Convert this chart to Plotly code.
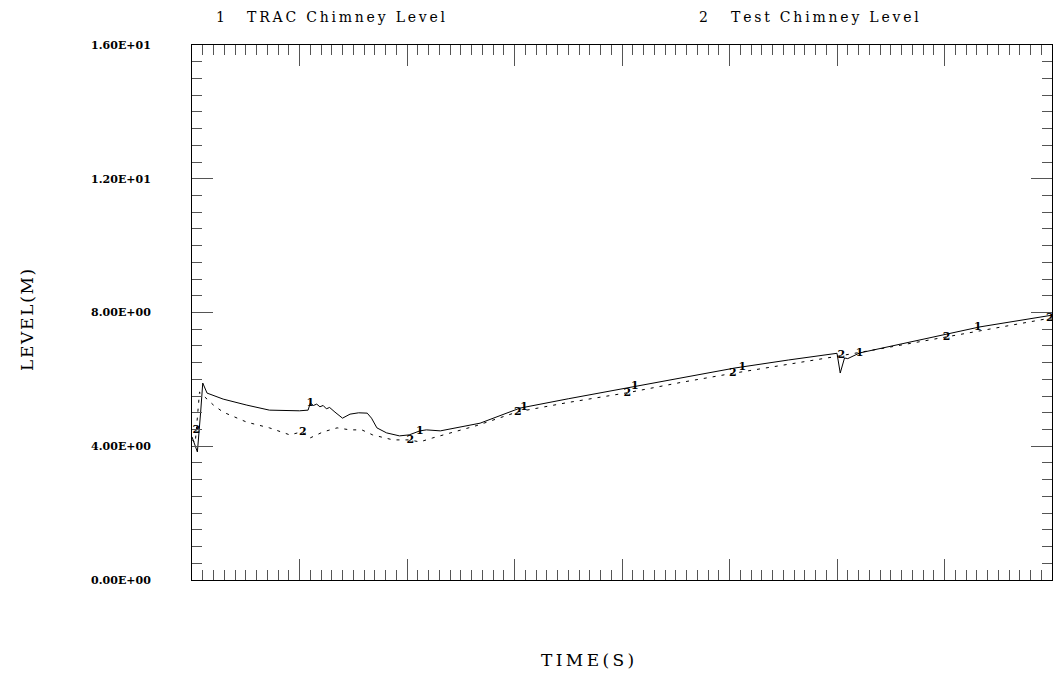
import numpy as np
import plotly.graph_objects as go

# ---- data (time in s, level in m) ----
t_trac = [0, 3, 5, 8, 10, 14, 29, 51, 72, 100, 108, 110, 113, 116, 119, 122, 125, 128, 131, 133,
          140, 147, 155, 163, 167, 172, 181, 193, 202, 212, 218, 231, 268, 305, 350, 403,
          455, 505, 555, 598, 600, 603, 607, 610, 621, 680, 733, 800]
y_trac = [4.28, 4.00, 3.83, 5.00, 5.89, 5.59, 5.41, 5.23, 5.08, 5.06, 5.08, 5.29, 5.22, 5.26, 5.18, 5.22, 5.12, 5.16, 5.06, 5.02,
          4.84, 4.96, 5.00, 4.99, 4.84, 4.55, 4.40, 4.31, 4.34, 4.46, 4.49, 4.46, 4.69, 5.14, 5.42, 5.74,
          6.05, 6.34, 6.58, 6.76, 6.78, 6.19, 6.64, 6.62, 6.79, 7.20, 7.57, 7.92]

t_test = [0, 3, 7, 20, 29, 51, 72, 91, 102, 110, 122, 135, 147, 158, 168, 187, 202, 212, 224, 237,
          265, 303, 350, 405, 455, 503, 555, 604, 650, 702, 750, 800]
y_test = [4.20, 4.10, 5.62, 5.23, 5.02, 4.72, 4.55, 4.34, 4.43, 4.25, 4.43, 4.55, 4.49, 4.49, 4.34, 4.19, 4.19, 4.13, 4.25, 4.37,
          4.62, 5.03, 5.31, 5.60, 5.91, 6.18, 6.45, 6.71, 6.97, 7.27, 7.54, 7.84]

label_t_trac = [110, 212, 309, 412, 512, 621, 731]
label_t_test = [4, 103, 203, 303, 405, 503, 604, 702, 798]

y_tickvals = [0, 4, 8, 12, 16]
y_ticktext = ["0.00E+00", "4.00E+00", "8.00E+00", "1.20E+01", "1.60E+01"]

legend_names = ["TRAC Chimney Level", "Test Chimney Level"]

SERIF = "DejaVu Serif"


def spaced(s, sep="\u200a"):
    return sep.join(list(s))


fig = go.Figure()
fig.add_trace(go.Scatter(x=t_trac, y=y_trac, mode="lines",
                         line=dict(color="black", width=1), showlegend=False))
fig.add_trace(go.Scatter(x=t_test, y=y_test, mode="lines",
                         line=dict(color="black", width=1, dash="3px,6px"), showlegend=False))

fig.add_trace(go.Scatter(x=label_t_trac, y=np.interp(label_t_trac, t_trac, y_trac), mode="text",
                         text=["1"] * len(label_t_trac), textposition="middle center",
                         textfont=dict(family=SERIF, size=11, color="black", weight="bold"),
                         showlegend=False))
fig.add_trace(go.Scatter(x=label_t_test, y=np.interp(label_t_test, t_test, y_test), mode="text",
                         text=["2"] * len(label_t_test), textposition="middle center",
                         textfont=dict(family=SERIF, size=11, color="black", weight="bold"),
                         showlegend=False))

L, R, T, B = 192, 2, 45, 95
W, H = 1054, 675
pw, ph = W - L - R, H - T - B


def px(xp):
    return (xp - L) / pw


def py(yp):
    return (H - B - yp) / ph


ann = []
ann.append(dict(text="1", x=px(214), y=py(17), xref="paper", yref="paper", xanchor="left",
                yanchor="middle", showarrow=False, font=dict(family=SERIF, size=14, color="black")))
ann.append(dict(text=spaced(legend_names[0], "\u2009"), x=px(245), y=py(17), xref="paper", yref="paper",
                xanchor="left", yanchor="middle", showarrow=False,
                font=dict(family=SERIF, size=14, color="black")))
ann.append(dict(text="2", x=px(697), y=py(17), xref="paper", yref="paper", xanchor="left",
                yanchor="middle", showarrow=False, font=dict(family=SERIF, size=14, color="black")))
ann.append(dict(text=spaced(legend_names[1], "\u2009"), x=px(729), y=py(17), xref="paper", yref="paper",
                xanchor="left", yanchor="middle", showarrow=False,
                font=dict(family=SERIF, size=14, color="black")))
ann.append(dict(text=spaced("TIME(S)", "\u2009"), x=px(587), y=py(660), xref="paper", yref="paper",
                xanchor="center", yanchor="middle", showarrow=False,
                font=dict(family=SERIF, size=17, color="black")))
ann.append(dict(text=spaced("LEVEL(M)", "\u200a"), x=px(27), y=py(320), xref="paper", yref="paper",
                xanchor="center", yanchor="middle", showarrow=False, textangle=-90,
                font=dict(family=SERIF, size=17, color="black")))

fig.update_layout(
    width=W, height=H,
    margin=dict(l=L, r=R, t=T, b=B),
    plot_bgcolor="white", paper_bgcolor="white",
    annotations=ann,
    xaxis=dict(range=[0, 800], showgrid=False, zeroline=False, showticklabels=False,
               showline=True, linecolor="black", linewidth=1, mirror="allticks",
               ticks="inside", tickmode="linear", tick0=0, dtick=100, ticklen=21,
               tickcolor="#555", tickwidth=1,
               minor=dict(ticks="inside", dtick=10, tick0=0, ticklen=10, tickcolor="#555",
                          tickwidth=1, showgrid=False)),
    yaxis=dict(range=[0, 16], showgrid=False, zeroline=False, showline=True,
               linecolor="black", linewidth=1, mirror="allticks",
               ticks="inside", tickmode="array", tickvals=y_tickvals, ticktext=y_ticktext,
               ticklen=21, tickcolor="#555", tickwidth=1, ticklabelstandoff=38,
               tickfont=dict(family=SERIF, size=11, color="black", weight="bold"),
               minor=dict(ticks="inside", dtick=0.5, tick0=0, ticklen=10, tickcolor="#555",
                          tickwidth=1, showgrid=False)),
)

fig.write_html("out.html")
